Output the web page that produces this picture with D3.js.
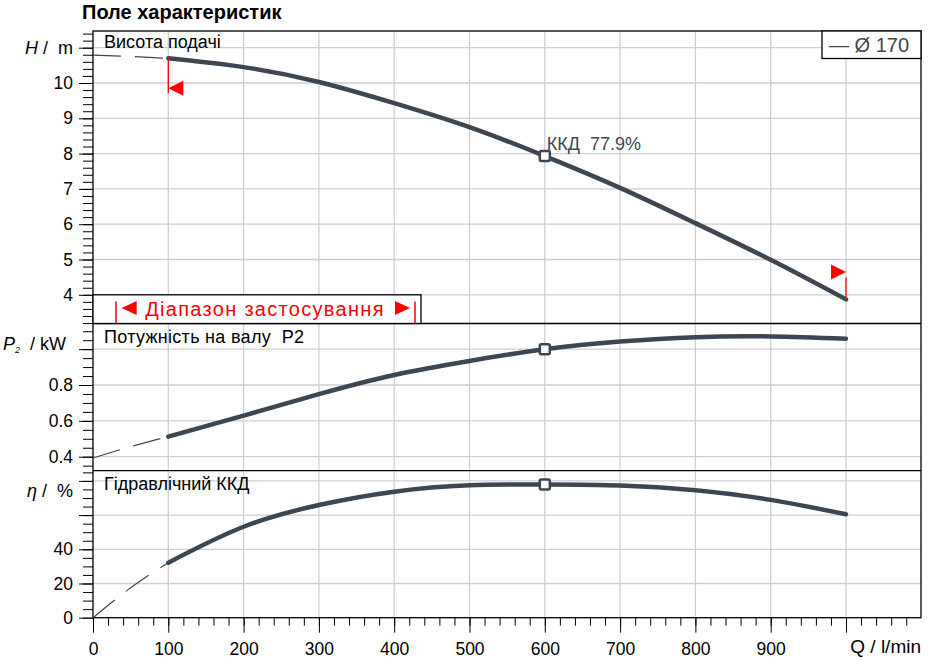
<!DOCTYPE html>
<html>
<head>
<meta charset="utf-8">
<title>Поле характеристик</title>
<script src="https://cdn.jsdelivr.net/npm/d3@7"></script>
<style>
body { margin: 0; background: #fff; }
text { font-family: "Liberation Sans", Arial, sans-serif; white-space: pre; }
</style>
</head>
<body>
<div id="chart"></div>
<script>
// flow rate Q, l/min (solid part of the curves)
var flow = [100, 200, 300, 400, 500, 600, 700, 800, 900, 1000];
// head H, m
var head = [10.70, 10.45, 10.03, 9.43, 8.75, 7.93, 7.03, 6.03, 4.99, 3.87];
// shaft power P2, kW
var power = [0.512, 0.629, 0.749, 0.856, 0.934, 1.0, 1.043, 1.067, 1.071, 1.058];
// hydraulic efficiency, %
var efficiency = [32.2, 53.2, 65.9, 73.7, 77.4, 77.9, 77.3, 74.5, 68.9, 60.5];

// dashed extrapolation below the application range
var flowLow = [0, 50, 100];
var headLow = [10.79, 10.75, 10.70];
var powerLow = [0.393, 0.456, 0.512];
var efficiencyLow = [0, 17.5, 32.2];

// best efficiency point and application range
var bestFlow = 600;
var bestEfficiency = 77.9;
var rangeFrom = 100;
var rangeTo = 1000;

// tick labels
var xTicks = [0, 100, 200, 300, 400, 500, 600, 700, 800, 900];
var headTicks = [4, 5, 6, 7, 8, 9, 10];
var powerTicks = [0.4, 0.6, 0.8];
var effTicks = [0, 20, 40];
// grid lines
var xGrid = [100, 200, 300, 400, 500, 600, 700, 800, 900, 1000];
var headGrid = [4, 5, 6, 7, 8, 9, 10, 11];
var powerGrid = [0.4, 0.6, 0.8, 1.0];
var effGrid = [20, 40, 60, 80];

window.onload = function() {
    draw();
};

function draw() {
    var width = 933;
    var height = 661;
    var frame = {left: 93, right: 921, top: 31, sep1: 323.5, sep2: 470.7, bottom: 617.7};
    var curveColor = "#3d4752";
    var gridColor = "#cfcfcf";
    var labelSize = "17.5px";

    var svg = d3.select("#chart").append("svg").attr("width", width).attr("height", height);

    // scales
    var x = d3.scaleLinear().domain([0, 1000]).range([93, 846]);
    var yH = d3.scaleLinear().domain([4, 10]).range([294.8, 83]);
    var yP = d3.scaleLinear().domain([0.4, 0.8]).range([456.7, 385]);
    var yE = d3.scaleLinear().domain([0, 40]).range([617.7, 549.3]);

    var panels = [
        {y: yH, grid: headGrid},
        {y: yP, grid: powerGrid},
        {y: yE, grid: effGrid}
    ];

    // grid
    var grid = svg.append("g").attr("stroke", gridColor).attr("stroke-width", 1.3);
    grid.selectAll(".vgrid").data(xGrid).enter().append("line")
        .attr("x1", function(d) { return x(d); })
        .attr("x2", function(d) { return x(d); })
        .attr("y1", frame.top)
        .attr("y2", frame.bottom);
    panels.forEach(function(p) {
        grid.selectAll(null).data(p.grid).enter().append("line")
            .attr("x1", frame.left)
            .attr("x2", frame.right)
            .attr("y1", function(d) { return p.y(d); })
            .attr("y2", function(d) { return p.y(d); });
    });

    // title
    svg.append("text")
        .text("Поле характеристик")
        .attr("x", 82).attr("y", 19)
        .style("font-size", "20px").style("font-weight", "bold");

    // y axes: minor + major ticks
    function yAxis(scale, top, bottom, step, majors, labels) {
        var lo = scale.invert(bottom), hi = scale.invert(top);
        var minor = d3.range(Math.ceil(lo / step - 1e-6) * step, hi, step);
        var g1 = svg.append("g")
            .attr("transform", "translate(" + frame.left + ",0)")
            .call(d3.axisLeft(scale).tickValues(minor).tickSize(10).tickFormat(""));
        g1.select(".domain").remove();
        var g2 = svg.append("g")
            .attr("transform", "translate(" + frame.left + ",0)")
            .call(d3.axisLeft(scale).tickValues(majors).tickSize(14).tickPadding(6)
                .tickFormat(function(d) { return labels.indexOf(d) >= 0 ? d3.format("~g")(d) : ""; }));
        g2.select(".domain").remove();
        g2.selectAll("text").style("font-size", labelSize).attr("fill", "#000");
        svg.selectAll(".tick line").attr("stroke", "#000");
    }
    yAxis(yH, frame.top, frame.sep1, 0.2, headGrid, headTicks);
    yAxis(yP, frame.sep1, frame.sep2, 0.05, powerGrid, powerTicks);
    yAxis(yE, frame.sep2, frame.bottom, 5, effGrid.concat([0]), effTicks);

    // x axis
    var gx1 = svg.append("g")
        .attr("transform", "translate(0," + frame.bottom + ")")
        .call(d3.axisBottom(x).tickValues(d3.range(0, 1100, 20)).tickSize(8).tickFormat(""));
    gx1.select(".domain").remove();
    var gx2 = svg.append("g")
        .attr("transform", "translate(0," + frame.bottom + ")")
        .call(d3.axisBottom(x).tickValues(xTicks.concat([1000])).tickSize(15).tickPadding(10)
            .tickFormat(function(d) { return xTicks.indexOf(d) >= 0 ? d : ""; }));
    gx2.select(".domain").remove();
    gx2.selectAll("text").style("font-size", labelSize).attr("fill", "#000");
    svg.selectAll(".tick line").attr("stroke", "#000");

    // axis titles
    var hLabel = svg.append("text").attr("x", 73).attr("y", yH(11) + 6)
        .attr("text-anchor", "end").style("font-size", "18px");
    hLabel.append("tspan").text("H").style("font-style", "italic");
    hLabel.append("tspan").text(" /  m");

    var pLabel = svg.append("text").attr("x", 66).attr("y", 350)
        .attr("text-anchor", "end").style("font-size", "18px");
    pLabel.append("tspan").text("P").style("font-style", "italic");
    pLabel.append("tspan").text("2").style("font-size", "9px").style("font-style", "italic").attr("dy", 3);
    pLabel.append("tspan").text("  / kW").attr("dy", -3);

    var eLabel = svg.append("text").attr("x", 73).attr("y", 497)
        .attr("text-anchor", "end").style("font-size", "18px");
    eLabel.append("tspan").text("η").style("font-style", "italic");
    eLabel.append("tspan").text(" /  %");

    svg.append("text").text("Q / l/min")
        .attr("x", frame.right).attr("y", 653)
        .attr("text-anchor", "end").style("font-size", "19px");

    // frame and panel separators
    svg.append("rect")
        .attr("x", frame.left).attr("y", frame.top)
        .attr("width", frame.right - frame.left).attr("height", frame.bottom - frame.top)
        .attr("fill", "none").attr("stroke", "#000").attr("stroke-width", 1.3);
    [frame.sep1, frame.sep2].forEach(function(s) {
        svg.append("line").attr("x1", frame.left).attr("x2", frame.right)
            .attr("y1", s).attr("y2", s).attr("stroke", "#000").attr("stroke-width", 1.3);
    });

    // panel titles
    svg.append("text").text("Висота подачі").attr("x", 104).attr("y", 48).style("font-size", "18px");
    svg.append("text").text("Потужність на валу  P2").attr("x", 104).attr("y", 343)
        .style("font-size", "18px").style("letter-spacing", "0.3px");
    svg.append("text").text("Гідравлічний ККД").attr("x", 104).attr("y", 490).style("font-size", "18px");

    // application range box
    var boxRight = 421;
    svg.append("rect")
        .attr("x", frame.left).attr("y", yH(4))
        .attr("width", boxRight - frame.left).attr("height", frame.sep1 - yH(4))
        .attr("fill", "#fff").attr("stroke", "#000").attr("stroke-width", 1.3);
    [116, 415].forEach(function(bx) {
        svg.append("line").attr("x1", bx).attr("x2", bx)
            .attr("y1", 301.5).attr("y2", frame.sep1)
            .attr("stroke", "#ff0000").attr("stroke-width", 1.5);
    });
    // pointers left and right of the label
    svg.append("path").attr("d", "M121.7,308 l15,-7 l0,14 z").attr("fill", "#ff0000");
    svg.append("path").attr("d", "M410,308 l-15,-7 l0,14 z").attr("fill", "#ff0000");
    svg.append("text").text("Діапазон застосування")
        .attr("x", 265).attr("y", 316).attr("text-anchor", "middle")
        .attr("fill", "#ff0000").style("font-size", "20px").style("letter-spacing", "1.3px");

    // curves
    function drawCurve(qs, vs, scale, lowQs, lowVs) {
        var line = d3.line()
            .x(function(d) { return x(d[0]); })
            .y(function(d) { return scale(d[1]); })
            .curve(d3.curveNatural);
        svg.append("path")
            .datum(d3.zip(lowQs, lowVs))
            .attr("d", line)
            .attr("fill", "none").attr("stroke", curveColor).attr("stroke-width", 1.2)
            .attr("stroke-dasharray", "28,14");
        svg.append("path")
            .datum(d3.zip(qs, vs))
            .attr("d", line)
            .attr("fill", "none").attr("stroke", curveColor).attr("stroke-width", 4.5)
            .attr("stroke-linecap", "round");
        // best efficiency marker
        var v = vs[qs.indexOf(bestFlow)];
        svg.append("rect")
            .attr("x", x(bestFlow) - 5).attr("y", scale(v) - 5)
            .attr("width", 10).attr("height", 10)
            .attr("fill", "#fff").attr("stroke", curveColor).attr("stroke-width", 2.5).attr("rx", 1.5);
    }
    drawCurve(flow, head, yH, flowLow, headLow);
    drawCurve(flow, power, yP, flowLow, powerLow);
    drawCurve(flow, efficiency, yE, flowLow, efficiencyLow);

    svg.append("text").text("ККД  " + bestEfficiency + "%")
        .attr("x", x(bestFlow) + 2).attr("y", yH(head[flow.indexOf(bestFlow)]) - 6)
        .attr("fill", curveColor).style("font-size", "18px");

    // range limit markers on the head curve
    var hFrom = yH(head[flow.indexOf(rangeFrom)]);
    svg.append("line").attr("x1", x(rangeFrom)).attr("x2", x(rangeFrom))
        .attr("y1", hFrom).attr("y2", hFrom + 35).attr("stroke", "#ff0000").attr("stroke-width", 1.3);
    svg.append("path")
        .attr("d", "M" + x(rangeFrom) + "," + (hFrom + 30) + " l15,-7.5 l0,15 z")
        .attr("fill", "#ff0000");
    var hTo = yH(head[flow.indexOf(rangeTo)]);
    svg.append("line").attr("x1", x(rangeTo)).attr("x2", x(rangeTo))
        .attr("y1", hTo).attr("y2", hTo - 22).attr("stroke", "#ff0000").attr("stroke-width", 1.3);
    svg.append("path")
        .attr("d", "M" + x(rangeTo) + "," + (hTo - 27.5) + " l-15,-7.5 l0,15 z")
        .attr("fill", "#ff0000");

    // legend
    svg.append("rect")
        .attr("x", 822).attr("y", frame.top)
        .attr("width", frame.right - 822).attr("height", 27.5)
        .attr("fill", "#fff").attr("stroke", "#000").attr("stroke-width", 1.3);
    svg.append("text").text("— Ø 170")
        .attr("x", 829).attr("y", 52)
        .attr("fill", curveColor).style("font-size", "20px");
}
</script>
</body>
</html>
